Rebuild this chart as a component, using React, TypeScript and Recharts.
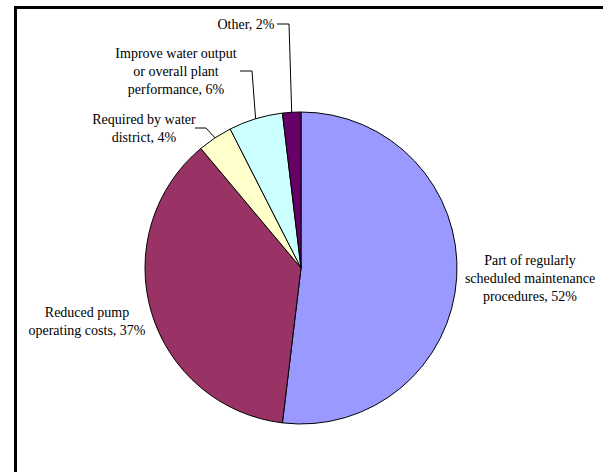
import React from "react";
import { PieChart, Pie, Cell } from "recharts";

// reasons for pump testing, share of respondents
const categories = [
  "Part of regularly scheduled maintenance procedures",
  "Reduced pump operating costs",
  "Required by water district",
  "Improve water output or overall plant performance",
  "Other",
];
const shares = [51.9, 37.0, 3.6, 5.6, 1.9];
const labelLines = [
  ["Part of regularly", "scheduled maintenance", "procedures,"],
  ["Reduced pump", "operating costs,"],
  ["Required by water", "district,"],
  ["Improve water output", "or overall plant", "performance,"],
  ["Other,"],
];
const colors = ["#9999FF", "#993366", "#FFFFCC", "#CCFFFF", "#660066"];

const data = categories.map((name, i) => ({ name, value: shares[i] }));

// label block offsets from the pie centre; leader = [textEnd, elbow] offsets
const layout: { dx: number; dy: number; leader?: number[][] }[] = [
  { dx: 229, dy: -8 },
  { dx: -214, dy: 44 },
  { dx: -157, dy: -149, leader: [[-106, -140], [-95, -140]] },
  { dx: -125, dy: -215, leader: [[-61, -197], [-49, -197]] },
  { dx: -55, dy: -244, leader: [[-24, -244], [-12, -244]] },
];

const FONT = '"Liberation Serif", "Times New Roman", "DejaVu Serif", serif';
const LINE = 18.3;
const RAD = Math.PI / 180;

function renderLabel(props: any) {
  const { cx, cy, midAngle, outerRadius, percent, index } = props;
  const pos = layout[index];
  const lines = labelLines[index].slice();
  lines[lines.length - 1] += ` ${Math.round(percent * 100)}%`;
  const ex = cx + outerRadius * Math.cos(-midAngle * RAD);
  const ey = cy + outerRadius * Math.sin(-midAngle * RAD);
  return (
    <g key={`lbl-${index}`}>
      {pos.leader && (
        <polyline
          points={[
            ...pos.leader.map(([x, y]) => `${cx + x},${cy + y}`),
            `${ex},${ey}`,
          ].join(" ")}
          fill="none"
          stroke="#000"
          strokeWidth={1}
        />
      )}
      {lines.map((t, i) => (
        <text
          key={i}
          x={cx + pos.dx}
          y={cy + pos.dy + i * LINE}
          textAnchor="middle"
          dominantBaseline="central"
          style={{ fontFamily: FONT, fontSize: 14, fill: "#000" }}
        >
          {t}
        </text>
      ))}
    </g>
  );
}

export default function App() {
  return (
    <div
      style={{
        position: "fixed",
        left: 0,
        top: 0,
        width: 603,
        height: 472,
        overflow: "hidden",
        background: "#fff",
        fontFamily: FONT,
      }}
    >
      <div
        style={{
          position: "absolute",
          left: 14,
          top: 6,
          width: 600,
          height: 480,
          border: "3px solid #000",
          boxSizing: "border-box",
        }}
      />
      <div style={{ position: "absolute", left: 0, top: 0 }}>
        <PieChart width={603} height={472} margin={{ top: 0, right: 0, bottom: 0, left: 0 }}>
          <Pie
            data={data}
            dataKey="value"
            nameKey="name"
            cx={301}
            cy={268}
            outerRadius={156}
            startAngle={90}
            endAngle={-270}
            stroke="#000"
            strokeWidth={1}
            label={renderLabel}
            labelLine={false}
            isAnimationActive={false}
          >
            {data.map((d, i) => (
              <Cell key={d.name} fill={colors[i]} />
            ))}
          </Pie>
        </PieChart>
      </div>
    </div>
  );
}
